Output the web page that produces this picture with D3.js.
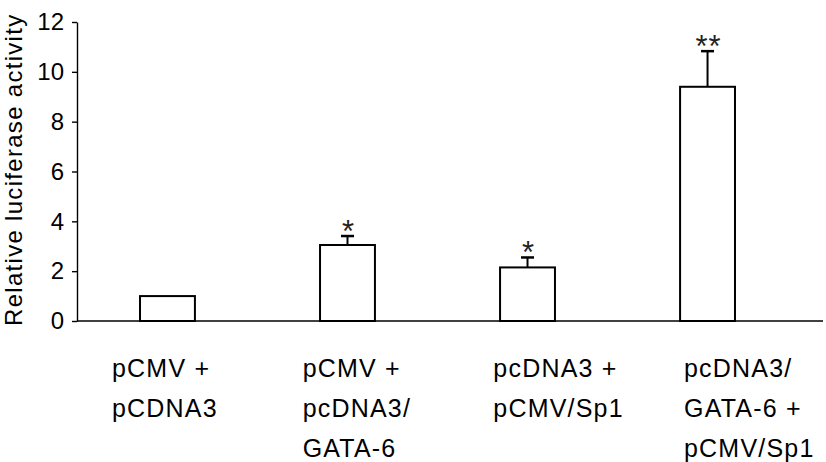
<!DOCTYPE html>
<html>
<head>
<meta charset="utf-8">
<script src="https://cdn.jsdelivr.net/npm/d3@7"></script>
<style>
  body { margin: 0; background: #fff; }
  text { font-family: Arial, "Liberation Sans", Helvetica, sans-serif; fill: #000; }
</style>
</head>
<body>
<svg width="826" height="462"></svg>
<script>
"use strict";

// data
var categories = ["pCMV + pCDNA3", "pCMV + pcDNA3/GATA-6", "pcDNA3 + pCMV/Sp1", "pcDNA3/GATA-6 + pCMV/Sp1"];
var labelLines = [
  ["pCMV +", "pCDNA3"],
  ["pCMV +", "pcDNA3/", "GATA-6"],
  ["pcDNA3 +", "pCMV/Sp1"],
  ["pcDNA3/", "GATA-6 +", "pCMV/Sp1"]
];
var values = [1.0, 3.05, 2.15, 9.4];
var errors = [0, 0.36, 0.4, 1.43];
var stars = ["", "*", "*", "**"];
var yTicks = [0, 2, 4, 6, 8, 10, 12];

var svg = d3.select("svg");

var axisX = 77, axisRight = 823;
var _y = d3.scaleLinear().domain([0, 12]).range([321, 22]);
var _x = d3.scaleBand().domain(categories).range([50, 825]).paddingInner(0.695).paddingOuter(0.5);
var _lab = d3.scalePoint().domain(categories).range([112, 684]);

// y axis
var yAxis = svg.append("g")
  .attr("transform", "translate(" + axisX + ",0)")
  .call(d3.axisLeft(_y).tickValues(yTicks).tickSize(5).tickSizeOuter(0).tickPadding(8));
yAxis.select(".domain").attr("stroke", "#000").attr("stroke-width", 1.4);
yAxis.selectAll(".tick line").attr("stroke", "#000").attr("stroke-width", 1.4);
yAxis.selectAll(".tick text")
  .style("font-size", "24px")
  .attr("fill", "#000")
  .style("font-family", "Arial, 'Liberation Sans', sans-serif");

// baseline
svg.append("line")
  .attr("x1", axisX).attr("x2", axisRight)
  .attr("y1", _y(0)).attr("y2", _y(0))
  .attr("stroke", "#000").attr("stroke-width", 1.4);

// y title
svg.append("text")
  .attr("transform", "translate(22,326) rotate(-90)")
  .attr("text-anchor", "start")
  .style("font-size", "24px")
  .style("letter-spacing", "1.3px")
  .text("Relative luciferase activity");

var data = categories.map(function (c, i) {
  return { cat: c, value: values[i], err: errors[i], star: stars[i], lines: labelLines[i] };
});

// bars
svg.selectAll("rect.bar")
  .data(data)
  .enter().append("rect")
  .attr("class", "bar")
  .attr("x", function (d) { return _x(d.cat); })
  .attr("y", function (d) { return _y(d.value); })
  .attr("width", _x.bandwidth())
  .attr("height", function (d) { return _y(0) - _y(d.value); })
  .attr("fill", "#fff")
  .attr("stroke", "#000")
  .attr("stroke-width", 2);

// error bars
var eb = svg.selectAll("g.err")
  .data(data.filter(function (d) { return d.err > 0; }))
  .enter().append("g")
  .attr("class", "err");
eb.append("line")
  .attr("x1", function (d) { return _x(d.cat) + _x.bandwidth() / 2; })
  .attr("x2", function (d) { return _x(d.cat) + _x.bandwidth() / 2; })
  .attr("y1", function (d) { return _y(d.value); })
  .attr("y2", function (d) { return _y(d.value + d.err); })
  .attr("stroke", "#000").attr("stroke-width", 2);
eb.append("line")
  .attr("x1", function (d) { return _x(d.cat) + _x.bandwidth() / 2 - 6.5; })
  .attr("x2", function (d) { return _x(d.cat) + _x.bandwidth() / 2 + 6.5; })
  .attr("y1", function (d) { return _y(d.value + d.err); })
  .attr("y2", function (d) { return _y(d.value + d.err); })
  .attr("stroke", "#000").attr("stroke-width", 2.5);

// significance stars
svg.selectAll("text.star")
  .data(data.filter(function (d) { return d.star; }))
  .enter().append("text")
  .attr("class", "star")
  .attr("x", function (d) { return _x(d.cat) + _x.bandwidth() / 2 + 1; })
  .attr("y", function (d) { return _y(d.value + d.err) + 6; })
  .attr("text-anchor", "middle")
  .style("font-size", "31px")
  .style("letter-spacing", "1px")
  .style("fill", "#222")
  .text(function (d) { return d.star; });

// category labels
var lab = svg.selectAll("text.cat")
  .data(data)
  .enter().append("text")
  .attr("class", "cat")
  .attr("x", function (d) { return _lab(d.cat); })
  .attr("y", 377)
  .style("font-size", "25px")
  .style("letter-spacing", "1.2px");
lab.selectAll("tspan")
  .data(function (d) { return d.lines; })
  .enter().append("tspan")
  .attr("x", function () { return _lab(d3.select(this.parentNode).datum().cat); })
  .attr("dy", function (d, i) { return i === 0 ? 0 : 40; })
  .text(function (d) { return d; });
</script>
</body>
</html>
